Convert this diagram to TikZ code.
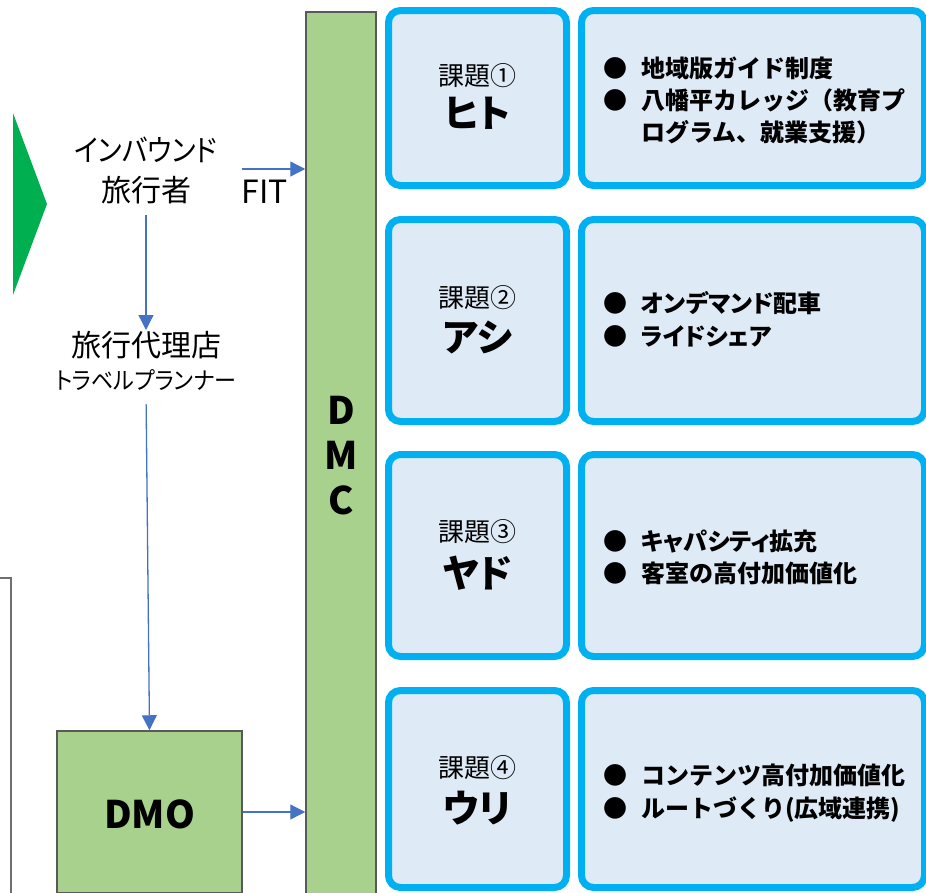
\documentclass[tikz,border=0pt]{standalone}
\usepackage{fontspec}
\usepackage{graphicx}
\setmainfont{Noto Sans CJK JP}
\newfontfamily\jpp[RawFeature=+palt]{Noto Sans CJK JP}
\usetikzlibrary{arrows.meta}
\definecolor{dgreen}{HTML}{00B050}
\definecolor{lgreen}{HTML}{A9D18E}
\definecolor{dgray}{HTML}{595959}
\definecolor{mgray}{HTML}{6F6F6F}
\definecolor{arrblue}{HTML}{4472C4}
\definecolor{cyanb}{HTML}{00B0F0}
\definecolor{paleb}{HTML}{DEEBF7}
\newcommand{\bul}{\makebox[38pt][l]{●}}
\begin{document}
\begin{tikzpicture}[x=1pt,y=-1pt,
  greenbox/.style={draw=dgray, line width=1.5pt, fill=lgreen, inner sep=0pt},
  kbox/.style={draw=cyanb, fill=paleb, line width=7pt, rounded corners=12pt, inner sep=0pt},
  arr/.style={draw=arrblue, line width=1.3pt, -{Triangle[length=15pt,width=15pt]}},
  txt/.style={inner sep=0pt, anchor=base, text height=0.88em, text depth=0.12em},
  bigtxt/.style={txt, font=\jpp\fontsize{30pt}{30pt}\selectfont},
  smalltxt/.style={txt, font=\jpp\fontsize{24pt}{24pt}\selectfont},
  kadai/.style={txt, font=\fontsize{26pt}{26pt}\selectfont},
  kname/.style={txt, font=\jpp\bfseries\fontsize{38pt}{38pt}\selectfont},
  latinbold/.style={txt, font=\bfseries\fontsize{38pt}{38pt}\selectfont},
  item/.style={inner sep=0pt, anchor=base west, font=\bfseries\fontsize{24pt}{24pt}\selectfont}
]
\useasboundingbox (0,0) rectangle (926,892);
\clip (0,0) rectangle (926,892);

% green triangle
\fill[dgreen] (13,113) -- (47,204) -- (13,295) -- cycle;

% gray box at lower left
\draw[mgray, line width=1.5pt] (-10,578) rectangle (11,900);

% left texts
\node[bigtxt] (trav1) at (146,161) {\scalebox{0.9}[1]{インバウンド}};
\node[bigtxt] (trav2) at (146,201) {旅行者};
\node[bigtxt] (ag1) at (146,356) {旅行代理店};
\node[smalltxt] (ag2) at (146,389) {\scalebox{0.92}[1]{トラベルプランナー}};
\node[txt, font=\fontsize{32pt}{32pt}\selectfont] (fit) at (265,203) {FIT};
\coordinate (fitA) at (242,169);

% DMC bar
\node[greenbox, minimum width=70pt, minimum height=900pt] (dmc) at (341,462) {};
\node[latinbold] (dD) at (341,424) {D};
\node[latinbold] (dM) at (341,469) {M};
\node[latinbold] (dC) at (341,514) {C};

% DMO box
\node[greenbox, minimum width=185pt, minimum height=162pt] (dmo) at (149.5,812) {};
\node[latinbold] (dmotxt) at (149.5,828) {DMO};

% arrows
\draw[arr, shorten <=13pt, shorten >=17pt] (trav2.south) -- (ag1.north);
\draw[arr, shorten <=14pt] (ag2.south) -- (dmo.north);
\draw[arr] (fitA) -- (fitA -| dmc.west);
\draw[arr] (dmo.east) -- (dmo.east -| dmc.west);

% issue boxes
\node[kbox, minimum width=178pt, minimum height=175pt] (k1) at (477.5,98) {};
\node[kbox, minimum width=178pt, minimum height=202pt] (k2) at (477.5,320.5) {};
\node[kbox, minimum width=178pt, minimum height=202pt] (k3) at (477.5,555.5) {};
\node[kbox, minimum width=178pt, minimum height=197pt] (k4) at (477.5,789) {};
\node[kbox, minimum width=343pt, minimum height=175pt] (r1) at (753,98) {};
\node[kbox, minimum width=343pt, minimum height=202pt] (r2) at (753,320.5) {};
\node[kbox, minimum width=343pt, minimum height=202pt] (r3) at (753,555.5) {};
\node[kbox, minimum width=343pt, minimum height=197pt] (r4) at (753,789) {};

% issue labels
\node[kadai] (k1a) at (477.5,85) {課題①};
\node[kname] (k1b) at (477.5,127) {ヒト};
\node[kadai] (k2a) at (477.5,307) {課題②};
\node[kname] (k2b) at (477.5,351) {アシ};
\node[kadai] (k3a) at (477.5,541) {課題③};
\node[kname] (k3b) at (477.5,587) {ヤド};
\node[kadai] (k4a) at (477.5,777) {課題④};
\node[kname] (k4b) at (477.5,822) {ウリ};

% measures
\node[item] (m1a) at (603,77) {\bul 地域版ガイド制度};
\node[item] (m1b) at (603,109) {\bul 八幡平カレッジ（教育プ};
\node[item] (m1c) at (603,141) {\hspace*{38pt}ログラム、就業支援）};
\node[item] (m2a) at (603,312) {\bul {\jpp オンデマンド}配車};
\node[item] (m2b) at (603,345) {\bul {\jpp ライドシェア}};
\node[item] (m3a) at (603,550) {\bul {\jpp キャパシティ}拡充};
\node[item] (m3b) at (603,582) {\bul 客室の高付加価値化};
\node[item] (m4a) at (603,784) {\bul コンテンツ高付加価値化};
\node[item] (m4b) at (603,817) {\bul ルートづくり(広域連携)};
\end{tikzpicture}
\end{document}
